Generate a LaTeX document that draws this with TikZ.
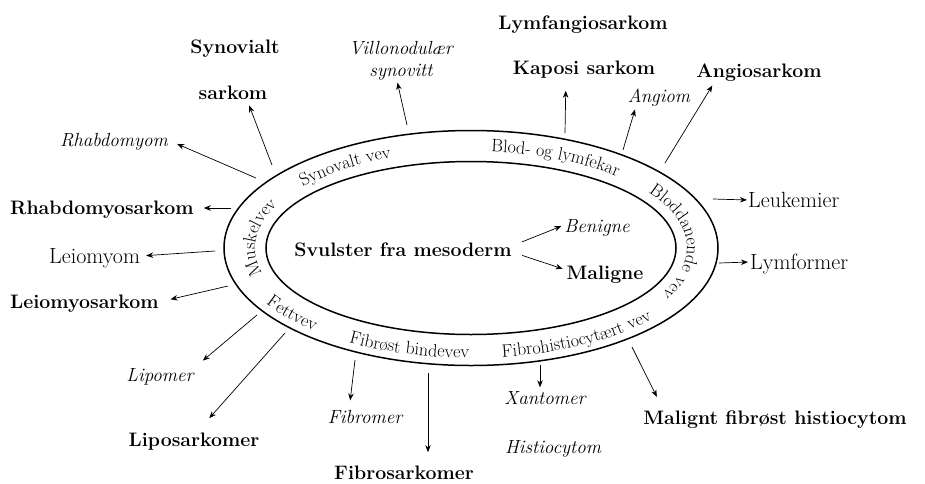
\documentclass[tikz,border=0pt]{standalone}
\usetikzlibrary{arrows.meta,decorations.text}

\begin{document}
\begin{tikzpicture}[x=1pt,y=1pt,
  malign/.style={font=\fontsize{19.5}{23}\selectfont\bfseries,inner sep=0pt,text height=13.3pt,text depth=0pt},
  benign/.style={font=\fontsize{19}{22}\selectfont\itshape,inner sep=0pt,text height=13pt,text depth=0pt},
  other/.style={font=\fontsize{22}{26}\selectfont,inner sep=0pt,text height=15pt,text depth=0pt},
  arr/.style={-{Stealth[length=7pt,width=5.5pt]},line width=.7pt},
  ring/.style={line width=1.5pt},
  ringtext/.style={decorate,decoration={text along path,text align=center,text={|\fontsize{18}{21}\selectfont|#1}}}]
\useasboundingbox (-471,-235) rectangle (454,248);
\draw[ring] (0,0) ellipse [x radius=247,y radius=117.5];
\draw[ring] (0,0) ellipse [x radius=205,y radius=86.5];

\path[ringtext=Synovalt vev] (146:216 and 97) arc[start angle=146,end angle=108,x radius=216,y radius=97];
\path[ringtext=Blod- og lymfekar] (91:216 and 97) arc[start angle=91,end angle=39,x radius=216,y radius=97];
\path[ringtext=Bloddanende vev] (43:216 and 97) arc[start angle=43,end angle=-37,x radius=216,y radius=97];
\path[ringtext=Muskelvev] (204:216 and 97) arc[start angle=204,end angle=146,x radius=216,y radius=97];
\path[ringtext=Fettvev] (205:238 and 110) arc[start angle=205,end angle=233,x radius=238,y radius=110];
\path[ringtext=Fibrøst bindevev] (234:238 and 110) arc[start angle=234,end angle=274,x radius=238,y radius=110];
\path[ringtext=Fibrohistiocytært vev] (271:238 and 110) arc[start angle=271,end angle=329,x radius=238,y radius=110];

\node[malign] (svulster) at (-68,-2) {Svulster fra mesoderm};
\node[benign] (benigne) at (126,22) {Benigne};
\node[malign] (maligne) at (134,-25) {Maligne};
\draw[arr,shorten <=11pt,shorten >=3pt] ([yshift=4pt]svulster.east) -- ([yshift=1pt]benigne.west);
\draw[arr,shorten <=11pt,shorten >=4pt] ([yshift=-2pt]svulster.east) -- ([yshift=3pt]maligne.west);

\node[malign] (synovialt) at (-236,201) {Synovialt};
\node[malign] (sarkom) at (-238,155) {sarkom};
\node[font=\fontsize{19}{22}\selectfont\itshape,align=center,inner sep=0pt] (villonod) at (-70,187) {Villonodulær\\synovitt};
\node[benign] (rhabdomyom) at (-357,108) {Rhabdomyom};
\node[malign] (lymfangio) at (112,225) {Lymfangiosarkom};
\node[malign] (kaposi) at (113,180) {Kaposi sarkom};
\node[benign] (angiom) at (188,152) {Angiom};
\node[malign] (angiosarkom) at (288,177) {Angiosarkom};
\node[other,anchor=west] (leukemier) at (277,48) {Leukemier};
\node[other,anchor=west] (lymformer) at (279,-14) {Lymformer};
\node[malign,anchor=west] (rhabdosarkom) at (-461,40) {Rhabdomyosarkom};
\node[other,anchor=west] (leiomyom) at (-422,-8) {Leiomyom};
\node[malign,anchor=west] (leiosarkom) at (-461,-54) {Leiomyosarkom};
\node[benign] (lipomer) at (-311,-127) {Lipomer};
\node[malign] (liposarkomer) at (-277,-192) {Liposarkomer};
\node[benign] (fibromer) at (-106,-169) {Fibromer};
\node[malign] (fibrosarkomer) at (-67,-225) {Fibrosarkomer};
\node[benign] (xantomer) at (74,-150) {Xantomer};
\node[benign] (histiocytom) at (82,-199) {Histiocytom};
\node[malign] (malignt) at (304,-170) {Malignt fibrøst histiocytom};

\coordinate (synA) at (-199,83);
\coordinate (villA) at (-64,123);
\coordinate (rhabA) at (-215,70);
\coordinate (kapA) at (94,115);
\coordinate (angiomA) at (152,98);
\coordinate (angiosA) at (194,85);
\coordinate (leukA) at (242,49);
\coordinate (lymfA) at (248,-15);
\coordinate (rhabsA) at (-240,40);
\coordinate (leiomA) at (-256,-3);
\coordinate (leiosA) at (-243,-38);
\coordinate (lipA) at (-214,-67);
\coordinate (liposA) at (-186,-85);
\coordinate (fibrA) at (-116,-112);
\coordinate (fibrsA) at (-43,-125);
\coordinate (xantA) at (69,-117);
\coordinate (mfhA) at (161,-99);

\draw[arr,shorten >=6pt] (synA) -- ([xshift=14pt]sarkom.south);
\draw[arr,shorten >=2pt] (villA) -- ([xshift=-4pt]villonod.south);
\draw[arr,shorten >=10pt] (rhabA) -- (rhabdomyom.east);
\draw[arr,shorten >=16pt] (kapA) -- ([xshift=-18pt]kaposi.south);
\draw[arr,shorten >=7pt] (angiomA) -- ([xshift=-22pt]angiom.south);
\draw[arr,shorten >=9pt] (angiosA) -- ([xshift=-42pt]angiosarkom.south);
\draw[arr,shorten >=1pt] (leukA) -- (leukemier.west);
\draw[arr,shorten >=2pt] (lymfA) -- (lymformer.west);
\draw[arr,shorten >=10pt] (rhabsA) -- (rhabdosarkom.east);
\draw[arr,shorten >=6pt] (leiomA) -- (leiomyom.east);
\draw[arr,shorten >=12pt] (leiosA) -- (leiosarkom.east);
\draw[arr,shorten >=12pt] (lipA) -- (lipomer.north east);
\draw[arr,shorten >=20pt] (liposA) -- ([xshift=2pt]liposarkomer.north);
\draw[arr,shorten >=10pt] (fibrA) -- ([xshift=-16pt]fibromer.north);
\draw[arr,shorten >=14pt] (fibrsA) -- ([xshift=24pt]fibrosarkomer.north);
\draw[arr,shorten >=4pt] (xantA) -- ([xshift=-5pt]xantomer.north);
\draw[arr,shorten >=16pt] (mfhA) -- ([xshift=-111pt]malignt.north);
\end{tikzpicture}
\end{document}
